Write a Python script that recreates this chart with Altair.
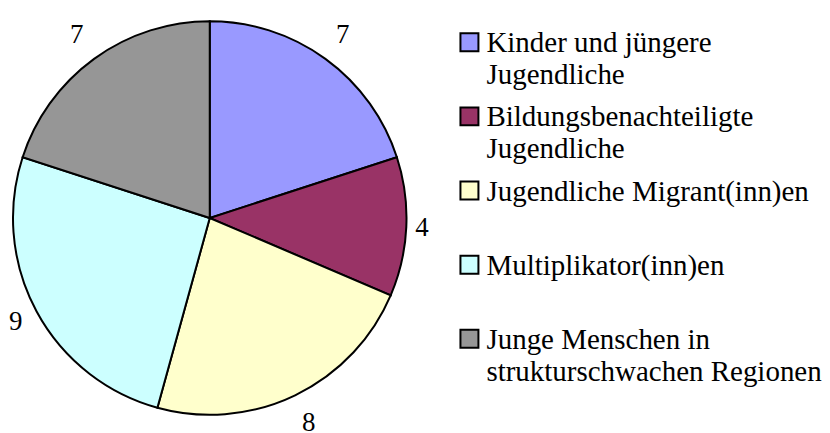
import altair as alt
import pandas as pd

categories = [
    "Kinder und jüngere Jugendliche",
    "Bildungsbenachteiligte Jugendliche",
    "Jugendliche Migrant(inn)en",
    "Multiplikator(inn)en",
    "Junge Menschen in strukturschwachen Regionen",
]
values = [7, 4, 8, 9, 7]
colors = ["#9999FF", "#993366", "#FFFFCC", "#CCFFFF", "#969696"]
legend_line1 = ["Kinder und jüngere", "Bildungsbenachteiligte", "Jugendliche Migrant(inn)en",
                "Multiplikator(inn)en", "Junge Menschen in"]
legend_line2 = ["Jugendliche", "Jugendliche", "", "", "strukturschwachen Regionen"]

df = pd.DataFrame({
    "category": categories,
    "value": values,
    "idx": list(range(len(categories))),
    "line1": legend_line1,
    "line2": legend_line2,
})

FONT = "Times New Roman, Liberation Serif, serif"
color_scale = alt.Scale(domain=categories, range=colors)

arcs = alt.Chart(df).mark_arc(outerRadius=197, stroke="black", strokeWidth=2).encode(
    theta=alt.Theta("value:Q", stack=True),
    order=alt.Order("idx:Q"),
    color=alt.Color("category:N", scale=color_scale, legend=None),
)
labels = alt.Chart(df).transform_window(
    cum="sum(value)", sort=[alt.SortField("idx")], frame=[None, 0]
).transform_joinaggregate(
    total="sum(value)"
).transform_calculate(
    mid="(datum.cum - datum.value/2)/datum.total*2*PI",
    r="212 + 18*abs(cos(datum.mid))",
).mark_text(font=FONT, fontSize=27, color="black").encode(
    theta=alt.Theta("mid:Q", scale=None, stack=None),
    radius=alt.Radius("r:Q", scale=None),
    text="value:Q",
)
pie = alt.layer(arcs, labels).resolve_scale(theta="independent").properties(width=404, height=420)

legend_base = alt.Chart(df).encode(
    y=alt.Y("category:N", sort=categories,
            scale=alt.Scale(type="point", domain=categories, range=[34, 331], padding=0),
            axis=None)
)
swatches = legend_base.mark_square(size=324, stroke="black", strokeWidth=2, opacity=1).encode(
    x=alt.value(58),
    color=alt.Color("category:N", scale=color_scale, legend=None),
)
text1 = legend_base.mark_text(font=FONT, fontSize=29, align="left", baseline="alphabetic",
                              dy=10, color="black").encode(x=alt.value(75), text="line1:N")
text2 = legend_base.mark_text(font=FONT, fontSize=29, align="left", baseline="alphabetic",
                              dy=42, color="black").encode(x=alt.value(75), text="line2:N")
legend = alt.layer(swatches, text1, text2).properties(width=400, height=420)

chart = alt.hconcat(pie, legend, spacing=0, bounds="flush").properties(
    padding=0
).configure_view(stroke=None)

chart.save("out.html", embed_options={"renderer": "svg", "actions": False})
